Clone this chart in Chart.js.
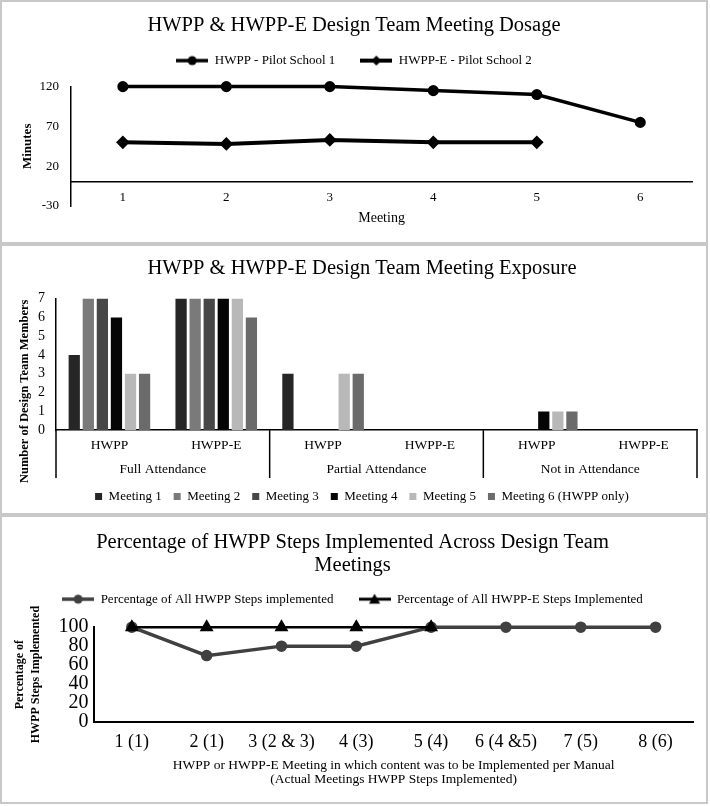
<!DOCTYPE html>
<html lang="en">

<head>
    <meta charset="UTF-8">
    <script src="https://cdn.jsdelivr.net/npm/chart.js"></script>
    <style>
        body { margin: 0; background: #fff; }
        .panel { position: absolute; left: 0; width: 708px; box-sizing: border-box; border: 2px solid #c8c8c8; background: #fff; }
        .panel canvas { display: block; }
    </style>
</head>

<body>
    <div class="panel" style="top:0; height:244px"><canvas id="dosage" width="704" height="240"></canvas></div>
    <div class="panel" style="top:244px; height:271px"><canvas id="exposure" width="704" height="267"></canvas></div>
    <div class="panel" style="top:515px; height:289px"><canvas id="steps" width="704" height="285"></canvas></div>

    <script>
        // chart 1 - dosage (minutes per meeting)
        const meetings = ['1', '2', '3', '4', '5', '6'];
        const pilotSchool1 = [120, 120, 120, 115, 110, 75];
        const pilotSchool2 = [50, 48, 53, 50, 50, null];
        const minutesTicks = [-30, 20, 70, 120];

        // chart 2 - exposure (design team members)
        const programs = ['HWPP', 'HWPP-E', 'HWPP', 'HWPP-E', 'HWPP', 'HWPP-E'];
        const attendanceGroups = ['Full Attendance', 'Partial Attendance', 'Not in Attendance'];
        const meetingNames = ['Meeting 1', 'Meeting 2', 'Meeting 3', 'Meeting 4', 'Meeting 5', 'Meeting 6 (HWPP only)'];
        const meeting1 = [4, 7, 3, 0, 0, 0];
        const meeting2 = [7, 7, 0, 0, 0, 0];
        const meeting3 = [7, 7, 0, 0, 0, 0];
        const meeting4 = [6, 7, 0, 0, 1, 0];
        const meeting5 = [3, 7, 3, 0, 1, 0];
        const meeting6 = [3, 6, 3, 0, 1, 0];
        const membersTicks = [0, 1, 2, 3, 4, 5, 6, 7];

        // chart 3 - steps implemented
        const manualMeetings = ['1 (1)', '2 (1)', '3 (2 & 3)', '4 (3)', '5 (4)', '6 (4 &5)', '7 (5)', '8 (6)'];
        const hwppSteps = [100, 70, 80, 80, 100, 100, 100, 100];
        const hwppeSteps = [100, 100, 100, 100, 100, null, null, null];
        const percentTicks = [0, 20, 40, 60, 80, 100];

        const meetingColors = ['#262626', '#7a7a7a', '#474747', '#050505', '#b8b8b8', '#6b6b6b'];
        const membersTitle = 'Number of Design Team Members';

        Chart.defaults.font.family = "'Liberation Serif', 'Times New Roman', serif";
        Chart.defaults.color = '#000';

        // excel style legend marker: a short line with the point on it
        function legendIcon(style, color, width) {
            const c = document.createElement('canvas');
            c.width = 32;
            c.height = 14;
            const g = c.getContext('2d');
            g.strokeStyle = color;
            g.fillStyle = color;
            g.lineWidth = width;
            g.beginPath();
            g.moveTo(0, 7);
            g.lineTo(32, 7);
            g.stroke();
            g.beginPath();
            if (style === 'circle') {
                g.arc(16, 7, 4.5, 0, Math.PI * 2);
            } else if (style === 'rectRot') {
                g.moveTo(16, 2); g.lineTo(21, 7); g.lineTo(16, 12); g.lineTo(11, 7);
            } else {
                g.moveTo(16, 1.5); g.lineTo(21.5, 11.5); g.lineTo(10.5, 11.5);
            }
            g.closePath();
            g.fill();
            return c;
        }

        // push the plot a bit further below the legend
        function legendGap(extra) {
            return {
                id: 'legendGap',
                beforeInit(chart) {
                    const fit = chart.legend.fit;
                    chart.legend.fit = function () {
                        fit.call(this);
                        this.height += extra;
                    };
                }
            };
        }

        function iconLabels(icons) {
            return function (chart) {
                return Chart.defaults.plugins.legend.labels.generateLabels(chart).map((item) => {
                    item.pointStyle = icons[item.datasetIndex];
                    return item;
                });
            };
        }

        const byDataset = (a, b) => a.datasetIndex - b.datasetIndex;
        const tickList = (list) => (axis) => { axis.ticks = list.map(v => ({ value: v })); };

        /**********************************/

        new Chart(document.getElementById('dosage'), {
            type: 'line',
            data: {
                labels: meetings,
                datasets: [{
                    label: 'HWPP - Pilot School 1',
                    data: pilotSchool1,
                    borderColor: '#000',
                    backgroundColor: '#000',
                    borderWidth: 3.5,
                    pointStyle: 'circle',
                    pointRadius: 3.8,
                    clip: 10,
                }, {
                    label: 'HWPP-E - Pilot School 2',
                    data: pilotSchool2,
                    borderColor: '#000',
                    backgroundColor: '#000',
                    borderWidth: 4,
                    pointStyle: 'rectRot',
                    pointRadius: 4,
                    clip: 10,
                }]
            },
            options: {
                responsive: false,
                animation: false,
                layout: { padding: { left: 14, right: 14, top: 0, bottom: 36 } },
                plugins: {
                    title: {
                        display: true,
                        text: 'HWPP & HWPP-E Design Team Meeting Dosage',
                        font: { size: 20.5, weight: 'normal' },
                        padding: { top: 11, bottom: -8.5 }
                    },
                    legend: {
                        labels: {
                            usePointStyle: true,
                            pointStyleWidth: 32,
                            padding: 25,
                            font: { size: 13 },
                            generateLabels: iconLabels([legendIcon('circle', '#000', 3.5), legendIcon('rectRot', '#000', 4)])
                        }
                    },
                    tooltip: { enabled: false }
                },
                scales: {
                    x: {
                        position: { y: 0 },
                        offset: true,
                        grid: { drawOnChartArea: false, drawTicks: false },
                        border: { color: '#000', width: 1.5 },
                        ticks: { padding: 8, font: { size: 13 } },
                        title: { display: true, text: 'Meeting', font: { size: 14 }, padding: { top: -4, bottom: 0 } }
                    },
                    y: {
                        min: minutesTicks[0],
                        max: minutesTicks[minutesTicks.length - 1],
                        afterBuildTicks: tickList(minutesTicks),
                        grid: { drawOnChartArea: false, drawTicks: false },
                        border: { color: '#000', width: 1.5 },
                        ticks: { autoSkip: false, padding: 12, font: { size: 13 } },
                        title: { display: true, text: 'Minutes', font: { size: 13, weight: 'bold' }, padding: { top: 4, bottom: -8 } }
                    }
                }
            },
            plugins: [legendGap(9.5)]
        });

        /**********************************/

        // group separators under the axis and the y title
        const attendanceFrame = {
            id: 'attendanceFrame',
            afterDraw(chart) {
                const { ctx, chartArea } = chart;
                const x = chart.scales.x;
                const x2 = chart.scales.x2;
                const half = (x.getPixelForValue(1) - x.getPixelForValue(0)) / 2;
                const perGroup = programs.length / attendanceGroups.length;
                ctx.save();
                ctx.strokeStyle = '#000';
                ctx.lineWidth = 1.5;
                for (let i = 0; i <= programs.length; i += perGroup) {
                    const px = i < programs.length ? x.getPixelForValue(i) - half : x.getPixelForValue(i - 1) + half;
                    ctx.beginPath();
                    ctx.moveTo(px, chartArea.bottom);
                    ctx.lineTo(px, x2.bottom);
                    ctx.stroke();
                }
                ctx.font = "bold 12.5px 'Liberation Serif'";
                ctx.fillStyle = '#000';
                ctx.textAlign = 'center';
                ctx.textBaseline = 'middle';
                ctx.translate(23, (chartArea.top + x2.bottom) / 2 + 3);
                ctx.rotate(-Math.PI / 2);
                ctx.fillText(membersTitle, 0, 0);
                ctx.restore();
            }
        };

        const meetingData = [meeting1, meeting2, meeting3, meeting4, meeting5, meeting6];

        new Chart(document.getElementById('exposure'), {
            type: 'bar',
            data: {
                labels: programs,
                datasets: meetingData.map((d, i) => ({
                    label: meetingNames[i],
                    data: d,
                    xAxisID: 'x',
                    backgroundColor: meetingColors[i],
                    borderColor: meetingColors[i],
                    borderWidth: 0,
                    categoryPercentage: 0.79,
                    barPercentage: 0.8,
                }))
            },
            options: {
                responsive: false,
                animation: false,
                layout: { padding: { left: 25, right: 9, top: 0, bottom: 0 } },
                plugins: {
                    title: {
                        display: true,
                        text: 'HWPP & HWPP-E Design Team Meeting Exposure',
                        font: { size: 20.5, weight: 'normal' },
                        padding: { top: 10, bottom: 18 }
                    },
                    legend: {
                        position: 'bottom',
                        labels: { boxWidth: 7, boxHeight: 7, padding: 12, font: { size: 13 } }
                    },
                    tooltip: { enabled: false }
                },
                scales: {
                    x: {
                        offset: true,
                        grid: { display: false, drawTicks: false },
                        border: { color: '#000', width: 1.5 },
                        ticks: { padding: 7, font: { size: 13.5 } }
                    },
                    x2: {
                        type: 'category',
                        labels: attendanceGroups,
                        position: 'bottom',
                        offset: true,
                        grid: { display: false, drawTicks: false },
                        border: { display: false },
                        ticks: { padding: 0.7, font: { size: 13.5 } }
                    },
                    y: {
                        min: membersTicks[0],
                        max: membersTicks[membersTicks.length - 1],
                        afterBuildTicks: tickList(membersTicks),
                        grid: { display: false, drawTicks: false },
                        border: { color: '#000', width: 1.5 },
                        ticks: { autoSkip: false, padding: 11, font: { size: 14 } }
                    }
                }
            },
            plugins: [attendanceFrame]
        });

        /**********************************/

        new Chart(document.getElementById('steps'), {
            type: 'line',
            data: {
                labels: manualMeetings,
                datasets: [{
                    label: 'Percentage of All HWPP Steps implemented',
                    data: hwppSteps,
                    borderColor: '#404040',
                    backgroundColor: '#404040',
                    borderWidth: 3.5,
                    pointStyle: 'circle',
                    pointRadius: 4,
                    clip: 10,
                    order: 2,
                }, {
                    label: 'Percentage of All HWPP-E Steps Implemented',
                    data: hwppeSteps,
                    borderColor: '#000',
                    backgroundColor: '#000',
                    borderWidth: 2.5,
                    pointStyle: 'triangle',
                    pointRadius: 5.5,
                    clip: 10,
                    order: 1,
                }]
            },
            options: {
                responsive: false,
                animation: false,
                layout: { padding: { left: 10, right: 13, top: 0, bottom: 15 } },
                plugins: {
                    title: {
                        display: true,
                        text: ['Percentage of HWPP Steps Implemented Across Design Team', 'Meetings'],
                        font: { size: 20.5, weight: 'normal', lineHeight: 1.15 },
                        padding: { top: 13.5, bottom: -10 }
                    },
                    legend: {
                        labels: {
                            usePointStyle: true,
                            pointStyleWidth: 32,
                            padding: 25,
                            font: { size: 13 },
                            sort: byDataset,
                            generateLabels: iconLabels([legendIcon('circle', '#404040', 3.5), legendIcon('triangle', '#000', 3)])
                        }
                    },
                    tooltip: { enabled: false }
                },
                scales: {
                    x: {
                        offset: true,
                        grid: { display: false, drawTicks: false },
                        border: { color: '#000', width: 2 },
                        ticks: { padding: 9, font: { size: 18 } },
                        title: {
                            display: true,
                            text: ['HWPP or HWPP-E Meeting in which content was to be Implemented per Manual', '(Actual Meetings HWPP Steps Implemented)'],
                            font: { size: 13.5, lineHeight: 1.05 },
                            padding: { top: -3, bottom: 0 }
                        }
                    },
                    y: {
                        min: percentTicks[0],
                        max: percentTicks[percentTicks.length - 1],
                        afterBuildTicks: tickList(percentTicks),
                        grid: { display: false, drawTicks: false },
                        border: { color: '#000', width: 2 },
                        ticks: { autoSkip: false, padding: 6, font: { size: 20 } },
                        title: {
                            display: true,
                            text: ['Percentage of', 'HWPP Steps Implemented'],
                            font: { size: 12, weight: 'bold', lineHeight: 1.35 },
                            padding: { top: 0, bottom: 8 }
                        }
                    }
                }
            },
            plugins: [legendGap(11.5)]
        });
    </script>

</body>

</html>
